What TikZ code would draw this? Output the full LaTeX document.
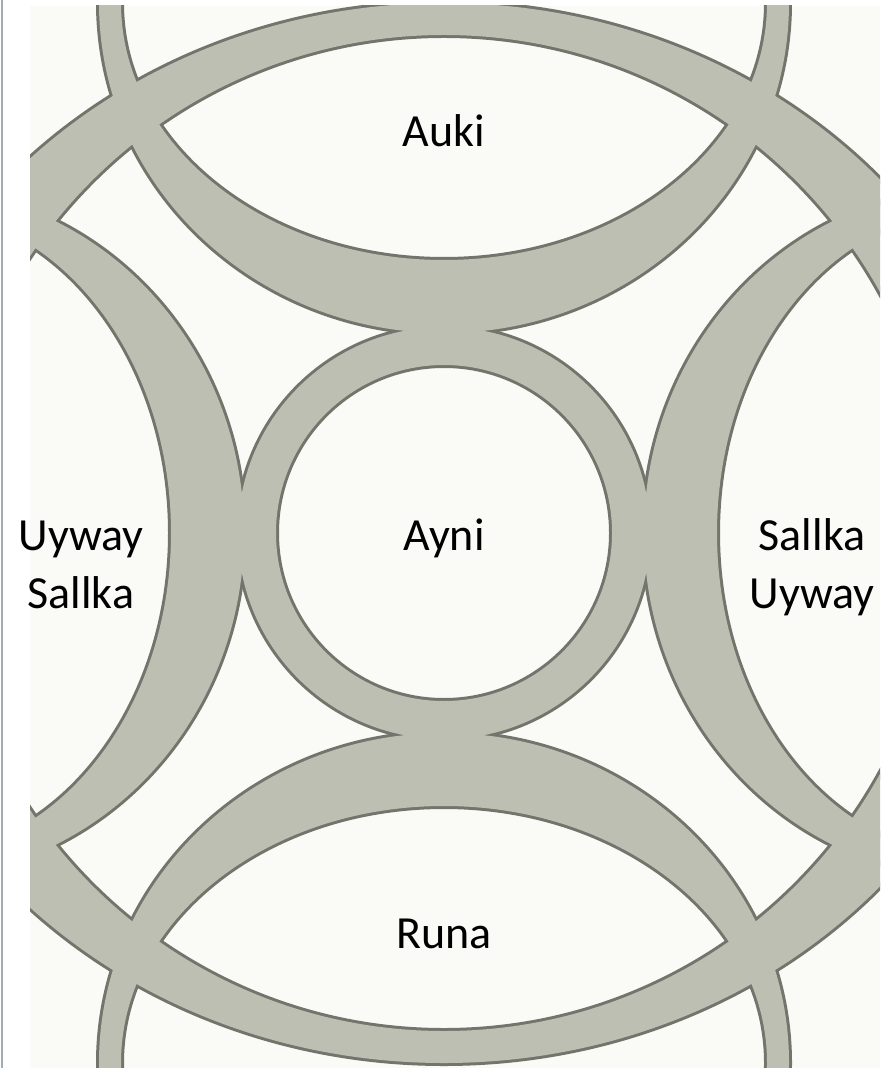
\documentclass[tikz,border=0pt]{standalone}
\usepackage{fontspec}
\setmainfont{Carlito}
\definecolor{colorBanda}{HTML}{BDBFB3}
\definecolor{colorBorde}{HTML}{72756B}
\definecolor{colorFondo}{HTML}{FAFAF7}
\definecolor{colorMarco}{HTML}{A3ABB3}
% centre x / centre y / outer radii / inner radii
\newcommand{\bandas}{444/533/206/206/168/168, 444/533/585/530/498/498,
    444/3/345/330/323/257, 444/1063/345/330/323/257,
    -86/533/330/345/257/323, 974/533/330/345/257/323}

\begin{document}
\begin{tikzpicture}[x=0.5pt, y=-0.5pt, font=\fontsize{23}{29}\selectfont,
        edge/.style={draw=colorBorde, line width=3pt},
        band/.style={fill=colorBanda, even odd rule},
        lbl/.style={anchor=base, align=center}]
    \useasboundingbox (0,0) rectangle (893,1068);
    \draw[colorMarco, line width=1pt] (1.5,0) -- (1.5,1068);
    \begin{scope}
        \clip (30,6) rectangle (880,1068);
        \fill[colorFondo] (30,6) rectangle (880,1068);
        \foreach \cx/\cy/\ax/\ay/\bx/\by in \bandas
            \draw[edge] (\cx,\cy) ellipse [x radius=\ax, y radius=\ay]
                (\cx,\cy) ellipse [x radius=\bx, y radius=\by];
        \foreach \cx/\cy/\ax/\ay/\bx/\by in \bandas
            \fill[band] (\cx,\cy) ellipse [x radius=\ax, y radius=\ay]
                (\cx,\cy) ellipse [x radius=\bx, y radius=\by];
    \end{scope}
    \node[lbl] (auki) at (444,147) {Auki};
    \node[lbl] (ayni) at (444,550) {Ayni};
    \node[lbl] (runa) at (444,948) {Runa};
    \node[lbl] (uywaySallka) at (81,608) {Uyway\\Sallka};
    \node[lbl] (sallkaUyway) at (812,608) {Sallka\\Uyway};
\end{tikzpicture}
\end{document}
